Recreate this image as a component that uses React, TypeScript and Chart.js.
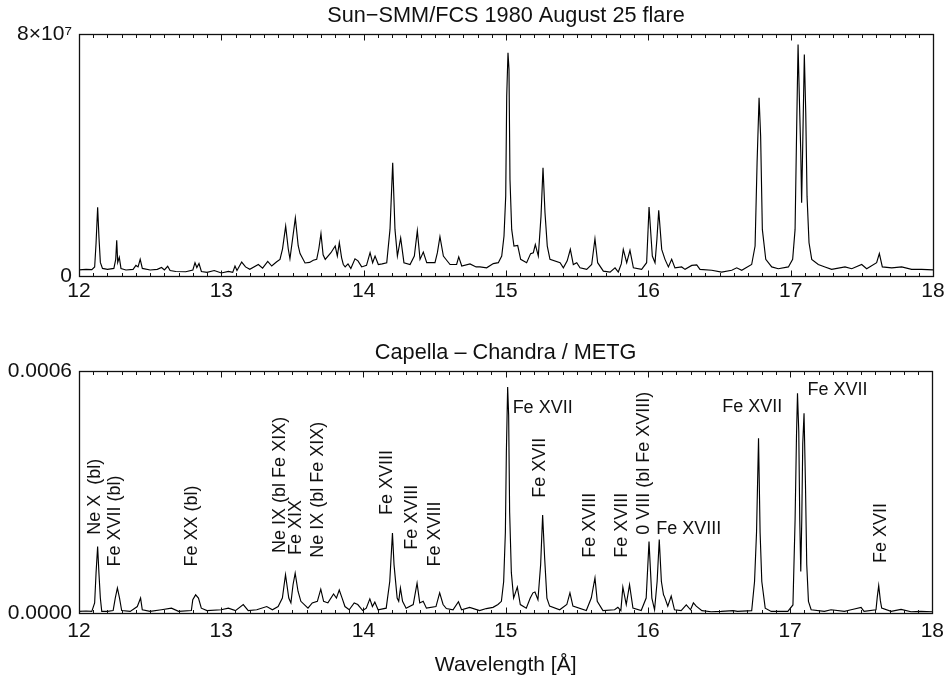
import React, { useEffect, useRef } from "react";
import { Chart, registerables } from "chart.js";

Chart.register(...registerables);

const FONT = "'Liberation Sans', Arial, Helvetica, sans-serif";
const INK = "#111";

const sunTitle = "Sun−SMM/FCS 1980 August 25 flare";
const capellaTitle = "Capella – Chandra / METG";
const xAxisTitle = "Wavelength [Å]";
const xMin = 12;
const xMax = 18;
const xTickValues = [12, 13, 14, 15, 16, 17, 18];
// Sun flux in units of 1e7
const sunYTicks = [0, 8];
const sunYTickLabels = ["0", "8×10⁷"];
// Capella flux in units of 1e-4
const capellaYTicks = [0, 6];
const capellaYTickLabels = ["0.0000", "0.0006"];

// [wavelength (Å), flux (1e7)]
const sunSpectrum: [number, number][] = [
  [12.0, 0.2], [12.05, 0.22], [12.09, 0.21], [12.11, 0.3], [12.12, 1.1], [12.131, 2.27], [12.14, 1.3], [12.15, 0.45],
  [12.165, 0.25], [12.2, 0.22], [12.245, 0.25], [12.258, 0.55], [12.265, 1.18], [12.272, 0.45], [12.283, 0.62], [12.295, 0.25],
  [12.33, 0.2], [12.38, 0.22], [12.4, 0.35], [12.415, 0.3], [12.43, 0.55], [12.445, 0.25], [12.5, 0.2], [12.55, 0.22],
  [12.58, 0.28], [12.6, 0.2], [12.623, 0.32], [12.64, 0.18], [12.68, 0.15], [12.75, 0.14], [12.8, 0.2], [12.815, 0.44],
  [12.828, 0.28], [12.843, 0.41], [12.86, 0.15], [12.9, 0.12], [12.95, 0.18], [13.0, 0.1], [13.05, 0.15], [13.08, 0.12],
  [13.096, 0.33], [13.11, 0.18], [13.143, 0.46], [13.17, 0.3], [13.2, 0.22], [13.26, 0.38], [13.29, 0.26], [13.326, 0.48],
  [13.354, 0.33], [13.389, 0.47], [13.412, 0.55], [13.43, 0.9], [13.452, 1.65], [13.47, 0.9], [13.482, 0.57], [13.5, 1.2],
  [13.52, 1.92], [13.54, 1.0], [13.553, 0.74], [13.588, 0.43], [13.62, 0.45], [13.646, 0.52], [13.67, 0.55], [13.685, 0.9],
  [13.7, 1.4], [13.715, 0.7], [13.73, 0.55], [13.77, 0.77], [13.8, 0.99], [13.815, 0.66], [13.829, 1.1], [13.845, 0.6],
  [13.857, 0.38], [13.87, 0.3], [13.89, 0.4], [13.91, 0.25], [13.939, 0.57], [13.96, 0.5], [13.986, 0.3], [14.02, 0.35],
  [14.045, 0.77], [14.063, 0.44], [14.08, 0.66], [14.103, 0.38], [14.13, 0.4], [14.162, 0.44], [14.185, 1.54], [14.204, 3.74],
  [14.22, 1.54], [14.237, 0.66], [14.26, 1.26], [14.283, 0.44], [14.326, 0.38], [14.356, 0.66], [14.377, 1.5], [14.396, 0.55],
  [14.419, 0.79], [14.443, 0.44], [14.501, 0.44], [14.518, 0.77], [14.536, 1.3], [14.56, 0.66], [14.583, 0.52], [14.607, 0.38],
  [14.653, 0.38], [14.668, 0.63], [14.689, 0.33], [14.747, 0.4], [14.79, 0.3], [14.817, 0.3], [14.864, 0.27], [14.911, 0.41],
  [14.946, 0.44], [14.97, 0.66], [14.986, 1.32], [14.998, 2.64], [15.005, 5.95], [15.014, 7.38], [15.021, 6.83], [15.028, 3.19],
  [15.04, 1.54], [15.056, 0.99], [15.082, 1.01], [15.103, 0.55], [15.145, 0.44], [15.173, 0.74], [15.192, 0.77], [15.206, 1.04],
  [15.227, 0.66], [15.246, 1.98], [15.26, 3.58], [15.274, 2.09], [15.29, 0.99], [15.309, 0.55], [15.38, 0.44], [15.403, 0.27],
  [15.43, 0.5], [15.452, 0.88], [15.473, 0.38], [15.497, 0.44], [15.52, 0.27], [15.567, 0.22], [15.602, 0.38], [15.625, 1.23],
  [15.644, 0.44], [15.684, 0.16], [15.731, 0.13], [15.766, 0.27], [15.789, 0.13], [15.81, 0.4], [15.824, 0.88], [15.848, 0.44],
  [15.871, 0.85], [15.895, 0.27], [15.953, 0.22], [15.988, 0.44], [15.996, 1.3], [16.005, 2.28], [16.028, 0.66], [16.047, 0.44],
  [16.06, 1.2], [16.073, 2.17], [16.094, 0.88], [16.117, 0.55], [16.141, 0.3], [16.164, 0.55], [16.187, 0.27], [16.234, 0.3],
  [16.258, 0.22], [16.305, 0.35], [16.34, 0.37], [16.363, 0.22], [16.445, 0.19], [16.515, 0.13], [16.586, 0.19], [16.621, 0.27],
  [16.656, 0.19], [16.726, 0.38], [16.75, 0.99], [16.764, 3.74], [16.778, 5.89], [16.789, 4.62], [16.801, 1.54], [16.825, 0.55],
  [16.867, 0.3], [16.913, 0.24], [16.984, 0.3], [17.014, 0.55], [17.031, 1.54], [17.042, 4.84], [17.052, 7.65], [17.061, 5.9],
  [17.071, 4.07], [17.077, 2.42], [17.085, 4.4], [17.096, 7.32], [17.106, 5.39], [17.115, 2.64], [17.129, 1.1], [17.148, 0.55],
  [17.194, 0.38], [17.241, 0.3], [17.288, 0.22], [17.382, 0.3], [17.429, 0.24], [17.499, 0.38], [17.534, 0.24], [17.604, 0.44],
  [17.623, 0.74], [17.644, 0.3], [17.71, 0.27], [17.78, 0.3], [17.85, 0.22], [17.92, 0.22], [18.0, 0.2],
];

// [wavelength (Å), flux (1e-4)]
const capellaSpectrum: [number, number][] = [
  [12.0, 0.04], [12.05, 0.05], [12.09, 0.04], [12.11, 0.25], [12.12, 1.0], [12.131, 1.65], [12.14, 1.0], [12.15, 0.37],
  [12.16, 0.04], [12.2, 0.04], [12.24, 0.06], [12.255, 0.37], [12.27, 0.62], [12.285, 0.37], [12.3, 0.06], [12.36, 0.04],
  [12.41, 0.16], [12.433, 0.37], [12.445, 0.08], [12.5, 0.04], [12.58, 0.08], [12.65, 0.12], [12.7, 0.04], [12.79, 0.06],
  [12.8, 0.33], [12.82, 0.45], [12.84, 0.37], [12.86, 0.12], [12.9, 0.06], [13.0, 0.08], [13.05, 0.12], [13.1, 0.06],
  [13.155, 0.21], [13.19, 0.06], [13.25, 0.08], [13.32, 0.16], [13.36, 0.08], [13.4, 0.16], [13.43, 0.37], [13.452, 0.95],
  [13.475, 0.37], [13.49, 0.25], [13.505, 0.7], [13.52, 0.99], [13.54, 0.54], [13.56, 0.29], [13.61, 0.12], [13.64, 0.25],
  [13.676, 0.29], [13.7, 0.59], [13.72, 0.29], [13.75, 0.25], [13.79, 0.47], [13.81, 0.37], [13.83, 0.57], [13.85, 0.37],
  [13.87, 0.16], [13.9, 0.08], [13.935, 0.25], [13.96, 0.21], [13.995, 0.06], [14.02, 0.12], [14.045, 0.35], [14.063, 0.16],
  [14.08, 0.27], [14.103, 0.08], [14.16, 0.12], [14.185, 0.78], [14.204, 1.98], [14.215, 1.2], [14.237, 0.37], [14.248, 0.29],
  [14.26, 0.62], [14.275, 0.29], [14.3, 0.12], [14.35, 0.21], [14.377, 0.74], [14.396, 0.25], [14.42, 0.29], [14.443, 0.12],
  [14.51, 0.16], [14.536, 0.5], [14.56, 0.21], [14.583, 0.11], [14.63, 0.08], [14.668, 0.28], [14.69, 0.08], [14.747, 0.14],
  [14.817, 0.06], [14.864, 0.11], [14.911, 0.14], [14.946, 0.21], [14.97, 0.29], [14.986, 0.78], [14.998, 2.0], [15.005, 4.0],
  [15.014, 5.6], [15.021, 4.91], [15.028, 2.5], [15.04, 1.0], [15.056, 0.37], [15.082, 0.64], [15.103, 0.21], [15.145, 0.12],
  [15.173, 0.37], [15.192, 0.5], [15.206, 0.52], [15.227, 0.33], [15.246, 1.2], [15.26, 2.43], [15.274, 1.37], [15.29, 0.37],
  [15.309, 0.17], [15.38, 0.08], [15.43, 0.21], [15.452, 0.5], [15.473, 0.17], [15.567, 0.06], [15.602, 0.37], [15.628, 0.87],
  [15.644, 0.29], [15.684, 0.06], [15.766, 0.08], [15.789, 0.14], [15.81, 0.06], [15.824, 0.64], [15.848, 0.21], [15.871, 0.7],
  [15.895, 0.12], [15.953, 0.06], [15.988, 0.37], [16.008, 1.77], [16.028, 0.37], [16.047, 0.08], [16.065, 0.78], [16.08, 1.82],
  [16.095, 0.78], [16.11, 0.45], [16.117, 0.4], [16.14, 0.17], [16.164, 0.42], [16.187, 0.08], [16.234, 0.06], [16.27, 0.2],
  [16.3, 0.08], [16.32, 0.25], [16.34, 0.17], [16.38, 0.06], [16.445, 0.03], [16.515, 0.04], [16.6, 0.06], [16.63, 0.04],
  [16.73, 0.06], [16.75, 0.78], [16.764, 2.0], [16.778, 4.33], [16.789, 2.0], [16.801, 0.78], [16.825, 0.12], [16.867, 0.04],
  [16.984, 0.04], [17.02, 0.2], [17.035, 2.3], [17.045, 4.4], [17.052, 5.45], [17.061, 4.5], [17.068, 2.3], [17.075, 1.03],
  [17.082, 2.3], [17.089, 4.2], [17.098, 4.95], [17.108, 3.2], [17.117, 1.2], [17.129, 0.29], [17.148, 0.08], [17.241, 0.04],
  [17.288, 0.08], [17.382, 0.04], [17.429, 0.08], [17.499, 0.14], [17.52, 0.04], [17.604, 0.08], [17.613, 0.4], [17.623, 0.68],
  [17.635, 0.3], [17.644, 0.12], [17.71, 0.04], [17.78, 0.09], [17.85, 0.03], [17.92, 0.04], [18.0, 0.03],
];

type LineLabel = { text: string; wl: number; flux: number; vertical: boolean };

// anchor: vertical labels -> (centre wavelength, flux at text start); horizontal -> (left wavelength, flux at text middle)
const capellaLineLabels: LineLabel[] = [
  { text: "Ne X  (bl)", wl: 12.112, flux: 1.94, vertical: true },
  { text: "Fe XVII (bl)", wl: 12.256, flux: 1.15, vertical: true },
  { text: "Fe XX (bl)", wl: 12.797, flux: 1.15, vertical: true },
  { text: "Ne IX (bl Fe XIX)", wl: 13.412, flux: 1.49, vertical: true },
  { text: "Fe XIX", wl: 13.528, flux: 1.44, vertical: true },
  { text: "Ne IX (bl Fe XIX)", wl: 13.679, flux: 1.37, vertical: true },
  { text: "Fe XVIII", wl: 14.167, flux: 2.43, vertical: true },
  { text: "Fe XVIII", wl: 14.345, flux: 1.57, vertical: true },
  { text: "Fe XVIII", wl: 14.501, flux: 1.15, vertical: true },
  { text: "Fe XVII", wl: 15.049, flux: 5.08, vertical: false },
  { text: "Fe XVII", wl: 15.239, flux: 2.86, vertical: true },
  { text: "Fe XVIII", wl: 15.595, flux: 1.37, vertical: true },
  { text: "Fe XVIII", wl: 15.82, flux: 1.37, vertical: true },
  { text: "0 VIII (bl Fe XVIII)", wl: 15.973, flux: 1.94, vertical: true },
  { text: "Fe XVIII", wl: 16.059, flux: 2.08, vertical: false },
  { text: "Fe XVII", wl: 16.523, flux: 5.1, vertical: false },
  { text: "Fe XVII", wl: 17.122, flux: 5.54, vertical: false },
  { text: "Fe XVII", wl: 17.64, flux: 1.24, vertical: true },
];

function decorPlugin(title: string, labels: LineLabel[]) {
  return {
    id: "decor",
    afterDatasetsDraw(chart: any) {
      const { ctx, chartArea: a, scales } = chart;
      const xs = scales.x;
      const ys = scales.y;
      ctx.save();
      ctx.strokeStyle = INK;
      ctx.lineWidth = 1.3;
      const L = Math.round(a.left) + 0.5;
      const R = Math.round(a.right) + 0.5;
      const T = Math.round(a.top) + 0.5;
      const B = Math.round(a.bottom) + 0.5;
      ctx.strokeRect(L, T, R - L, B - T);
      ctx.lineWidth = 1;
      ctx.beginPath();
      for (let i = 0; i <= 60; i++) {
        const px = Math.round(xs.getPixelForValue(xMin + i / 10)) + 0.5;
        const len = i % 10 === 0 ? 6 : 3.5;
        ctx.moveTo(px, T);
        ctx.lineTo(px, T + len);
        ctx.moveTo(px, B);
        ctx.lineTo(px, B - len);
      }
      ctx.stroke();

      ctx.fillStyle = INK;
      ctx.font = `21.7px ${FONT}`;
      ctx.textAlign = "center";
      ctx.textBaseline = "alphabetic";
      ctx.fillText(title, (a.left + a.right) / 2, a.top - 12);

      ctx.font = `18px ${FONT}`;
      for (const lb of labels) {
        const px = xs.getPixelForValue(lb.wl);
        const py = ys.getPixelForValue(lb.flux);
        if (lb.vertical) {
          ctx.save();
          ctx.translate(px, py);
          ctx.rotate(-Math.PI / 2);
          ctx.textAlign = "left";
          ctx.textBaseline = "middle";
          ctx.fillText(lb.text, 0, 0);
          ctx.restore();
        } else {
          ctx.textAlign = "left";
          ctx.textBaseline = "middle";
          ctx.fillText(lb.text, px, py);
        }
      }
      ctx.restore();
    },
  };
}

type PanelProps = {
  top: number;
  height: number;
  padTop: number;
  xAxisHeight: number;
  xTickPad: number;
  spectrum: [number, number][];
  yTicks: number[];
  yTickLabels: string[];
  title: string;
  labels: LineLabel[];
  xTitle?: string;
};

function SpectrumPanel(p: PanelProps) {
  const ref = useRef<HTMLCanvasElement | null>(null);
  useEffect(() => {
    if (!ref.current) return;
    const chart = new Chart(ref.current, {
      type: "line",
      data: {
        datasets: [
          {
            data: p.spectrum.map(([x, y]) => ({ x, y })),
            borderColor: "#000",
            borderWidth: 1.15,
            pointRadius: 0,
            tension: 0,
            fill: false,
          },
        ],
      },
      options: {
        animation: false,
        responsive: false,
        devicePixelRatio: 1,
        layout: { padding: { left: 0, right: 17, top: p.padTop, bottom: 0 } },
        plugins: { legend: { display: false }, tooltip: { enabled: false }, title: { display: false } },
        scales: {
          x: {
            type: "linear",
            min: xMin,
            max: xMax,
            afterBuildTicks: (s: any) => {
              s.ticks = xTickValues.map((v) => ({ value: v }));
            },
            ticks: {
              font: { family: FONT, size: 21 },
              color: INK,
              padding: p.xTickPad,
              maxRotation: 0,
              autoSkip: false,
              callback: (v: any) => String(v),
            },
            grid: { display: false, drawTicks: false },
            border: { display: false },
            title: p.xTitle
              ? { display: true, text: p.xTitle, font: { family: FONT, size: 21 }, color: INK, padding: { top: 0, bottom: 0 } }
              : { display: false },
            afterFit: (s: any) => {
              s.height = p.xAxisHeight;
            },
          },
          y: {
            type: "linear",
            min: p.yTicks[0],
            max: p.yTicks[p.yTicks.length - 1],
            afterBuildTicks: (s: any) => {
              s.ticks = p.yTicks.map((v) => ({ value: v }));
            },
            ticks: {
              font: { family: FONT, size: 21 },
              color: INK,
              padding: 7,
              callback: (v: any) => {
                const i = p.yTicks.indexOf(Number(v));
                return i >= 0 ? p.yTickLabels[i] : "";
              },
            },
            grid: { display: false, drawTicks: false },
            border: { display: false },
            afterFit: (s: any) => {
              s.width = 79;
            },
          },
        },
      },
      plugins: [decorPlugin(p.title, p.labels)],
    } as any);
    return () => chart.destroy();
  }, []);
  return (
    <canvas
      ref={ref}
      width={950}
      height={p.height}
      style={{ position: "absolute", left: 0, top: p.top, width: 950, height: p.height }}
    />
  );
}

export default function App() {
  return (
    <div style={{ position: "absolute", left: 0, top: 0, width: 950, height: 678, background: "#fff" }}>
      <SpectrumPanel
        top={0}
        height={300}
        padTop={34}
        xAxisHeight={24}
        xTickPad={3}
        spectrum={sunSpectrum}
        yTicks={sunYTicks}
        yTickLabels={sunYTickLabels}
        title={sunTitle}
        labels={[]}
      />
      <SpectrumPanel
        top={300}
        height={378}
        padTop={71}
        xAxisHeight={65}
        xTickPad={6}
        spectrum={capellaSpectrum}
        yTicks={capellaYTicks}
        yTickLabels={capellaYTickLabels}
        title={capellaTitle}
        labels={capellaLineLabels}
        xTitle={xAxisTitle}
      />
    </div>
  );
}
